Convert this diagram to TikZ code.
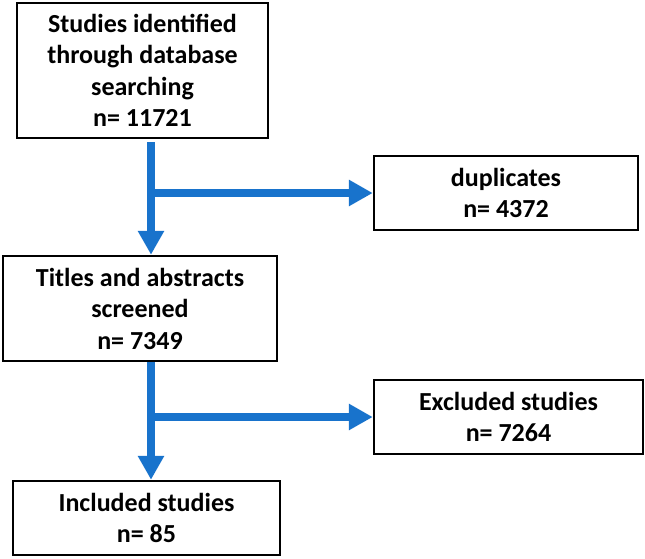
\documentclass[tikz,border=0pt]{standalone}
\usepackage{fontspec}
\setmainfont{Carlito}
\usetikzlibrary{arrows.meta}
\definecolor{flowblue}{RGB}{24,115,204}
\begin{document}
\begin{tikzpicture}[x=1pt,y=-1pt,
  box/.style={draw=black,line width=2.5pt,align=center,inner sep=0pt,
    font=\fontsize{26}{31.5}\selectfont\bfseries},
  flow/.style={draw=flowblue,line width=8pt,
    -{Triangle[width=25pt,length=24pt]},flowblue}]
\useasboundingbox (0,0) rectangle (645,558);
\node[box,minimum width=251pt,minimum height=135pt] (b1) at (142.5,70.5)
  {Studies identified\\through database\\searching\\n= 11721};
\node[box,minimum width=264pt,minimum height=74pt] (dup) at (506,193)
  {duplicates\\n= 4372};
\node[box,minimum width=274pt,minimum height=105pt] (b2) at (140,308.5)
  {Titles and abstracts\\screened\\n= 7349};
\node[box,minimum width=269pt,minimum height=74pt] (exc) at (508.5,417)
  {Excluded studies\\n= 7264};
\node[box,minimum width=267pt,minimum height=74pt] (b3) at (146.5,518)
  {Included studies\\n= 85};
\coordinate (j1) at (151,193);
\coordinate (j2) at (151,417);
\draw[flow,shorten <=3pt] (b1.south -| j1) -- (b2.north -| j1);
\draw[flow] ([xshift=-4pt]j1) -- (dup.west);
\draw[flow] (b2.south -| j2) -- (b3.north -| j2);
\draw[flow] ([xshift=-4pt]j2) -- (exc.west);
\end{tikzpicture}
\end{document}
